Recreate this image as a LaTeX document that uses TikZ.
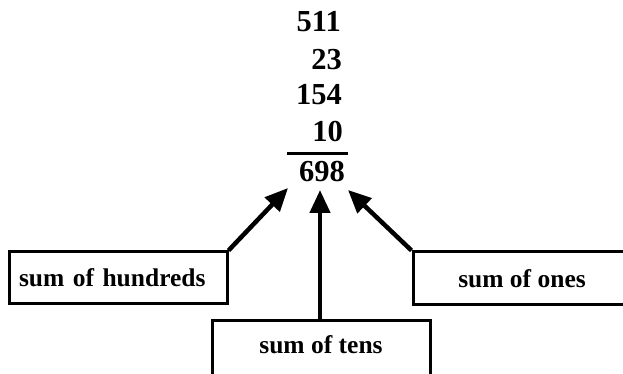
\documentclass[tikz,border=0pt]{standalone}
\usepackage{fontspec}
\setmainfont{Liberation Serif}
\usetikzlibrary{arrows.meta,positioning}

\begin{document}
\begin{tikzpicture}[
    x=1pt, y=1pt,
    num/.style={anchor=base east, inner sep=0pt,
                font=\fontsize{30.5}{33}\selectfont\bfseries},
    lbox/.style={rectangle, draw, line width=3pt, minimum width=218pt,
                 minimum height=52pt, inner sep=3pt,
                 font=\fontsize{25.5}{28}\selectfont\bfseries},
    pt/.style={line width=4.5pt, -{Triangle[length=23pt, width=20pt]}},
  ]
  \useasboundingbox (0,0) rectangle (623,374);
  \clip (0,0) rectangle (623,374);
  % the column of numbers
  \node[num] (n511) at (341, 342) {511};
  \node[num] (n23) at (342, 304) {23};
  \node[num] (n154) at (342, 269) {154};
  \node[num] (n10) at (343, 232) {10};
  \coordinate (ruleL) at (287, 220.5);
  \coordinate (ruleR) at (348, 220.5);
  \draw[line width=3pt] (ruleL) -- (ruleR);
  \node[num] (total) at (345, 192) {698};
  % the three labels
  \node[lbox, text width=198pt, align=left, inner xsep=10pt]
    (hund) at (118, 96) {sum of hundreds};
  \node[lbox, minimum height=58pt, text depth=10pt] (tens) at (321, 24) {sum of tens};
  \node[lbox, minimum height=53pt] (ones) at (522, 95.5) {sum of ones};
  % arrows up to the total
  \coordinate (tipH) at (288, 186);
  \coordinate (tipT) at (320, 184);
  \coordinate (tipO) at (348, 184);
  \draw[pt] (hund.north east) -- (tipH);
  \draw[pt] (tens.north -| tipT) -- (tipT);
  \draw[pt] (ones.north west) -- (tipO);
\end{tikzpicture}
\end{document}
